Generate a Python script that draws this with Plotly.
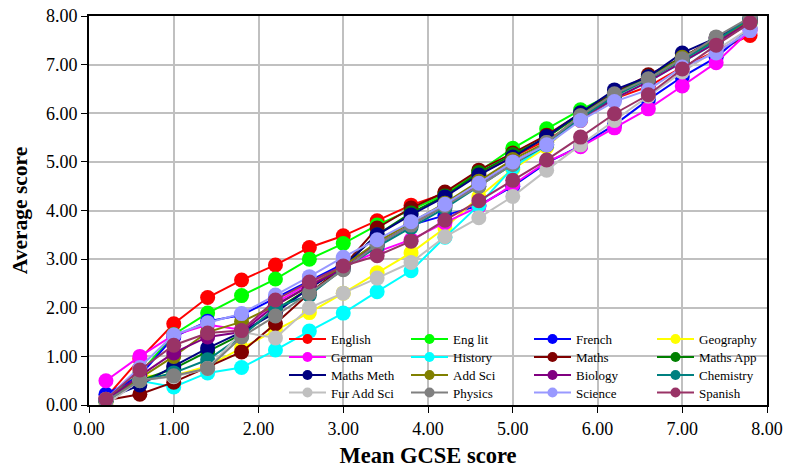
import plotly.graph_objects as go

x_vals = [0.2, 0.6, 1.0, 1.4, 1.8, 2.2, 2.6, 3.0, 3.4, 3.8, 4.2, 4.6, 5.0, 5.4, 5.8, 6.2, 6.6, 7.0, 7.4, 7.8]

english = [0.15, 0.95, 1.67, 2.21, 2.57, 2.88, 3.24, 3.48, 3.79, 4.11, 4.35, 4.75, 5.10, 5.45, 5.85, 6.30, 6.55, 6.95, 7.28, 7.60]
eng_lit = [0.10, 0.65, 1.45, 1.89, 2.25, 2.59, 3.00, 3.32, 3.70, 4.02, 4.33, 4.80, 5.28, 5.68, 6.07, 6.42, 6.72, 7.10, 7.45, 7.85]
french = [0.22, 0.60, 1.40, 1.72, 1.85, 2.20, 2.55, 2.90, 3.30, 3.70, 3.90, 4.10, 4.50, 4.98, 5.33, 5.76, 6.28, 6.75, 7.15, 7.75]
geography = [0.05, 0.60, 0.60, 0.80, 1.17, 1.54, 1.90, 2.30, 2.72, 3.13, 3.64, 4.28, 4.85, 5.30, 5.95, 6.35, 6.70, 7.05, 7.45, 7.85]
german = [0.50, 1.00, 1.44, 1.65, 1.55, 2.10, 2.50, 2.85, 3.15, 3.40, 3.75, 4.08, 4.53, 5.00, 5.31, 5.70, 6.09, 6.56, 7.04, 7.70]
history = [0.08, 0.50, 0.37, 0.66, 0.77, 1.13, 1.52, 1.89, 2.33, 2.76, 3.45, 4.11, 4.88, 5.35, 5.90, 6.30, 6.65, 7.05, 7.45, 7.85]
maths = [0.10, 0.22, 0.47, 0.78, 1.09, 1.67, 2.30, 2.85, 3.64, 4.05, 4.38, 4.83, 5.18, 5.55, 6.00, 6.42, 6.79, 7.15, 7.55, 7.95]
maths_app = [0.10, 0.50, 0.75, 1.10, 1.45, 1.95, 2.40, 2.85, 3.50, 3.95, 4.30, 4.78, 5.15, 5.50, 5.98, 6.40, 6.75, 7.15, 7.50, 7.90]
maths_meth = [0.12, 0.41, 0.80, 1.17, 1.50, 1.90, 2.40, 2.85, 3.50, 3.91, 4.28, 4.73, 5.10, 5.52, 6.01, 6.48, 6.75, 7.24, 7.55, 7.95]
add_sci = [0.10, 0.55, 1.00, 1.50, 1.71, 2.05, 2.45, 2.85, 3.35, 3.75, 4.15, 4.60, 5.05, 5.40, 5.95, 6.38, 6.70, 7.15, 7.50, 7.90]
biology = [0.10, 0.60, 1.07, 1.40, 1.50, 2.05, 2.45, 2.80, 3.30, 3.70, 4.10, 4.55, 5.00, 5.35, 5.90, 6.30, 6.65, 7.05, 7.45, 7.88]
chemistry = [0.08, 0.50, 0.66, 0.93, 1.41, 2.00, 2.26, 2.80, 3.25, 3.65, 4.05, 4.50, 4.95, 5.35, 5.90, 6.35, 6.70, 7.10, 7.50, 7.95]
fur_add_sci = [0.00, 0.51, 0.58, 0.75, 1.50, 1.38, 2.00, 2.30, 2.61, 2.93, 3.46, 3.85, 4.29, 4.83, 5.35, 5.85, 6.35, 6.85, 7.30, 7.75]
physics = [0.08, 0.50, 0.60, 0.75, 1.40, 1.83, 2.30, 2.78, 3.30, 3.70, 4.10, 4.50, 4.95, 5.40, 5.95, 6.40, 6.71, 7.12, 7.57, 7.97]
science = [0.12, 0.77, 1.44, 1.69, 1.88, 2.26, 2.64, 3.04, 3.40, 3.77, 4.13, 4.56, 5.00, 5.35, 5.85, 6.24, 6.48, 6.95, 7.24, 7.70]
spanish = [0.12, 0.72, 1.23, 1.48, 1.53, 2.16, 2.53, 2.86, 3.07, 3.37, 3.80, 4.20, 4.62, 5.04, 5.51, 5.99, 6.38, 6.91, 7.40, 7.86]

series_names = ["English", "Eng lit", "French", "Geography", "German", "History", "Maths", "Maths App",
                "Maths Meth", "Add Sci", "Biology", "Chemistry", "Fur Add Sci", "Physics", "Science", "Spanish"]
series_values = [english, eng_lit, french, geography, german, history, maths, maths_app,
                 maths_meth, add_sci, biology, chemistry, fur_add_sci, physics, science, spanish]
series_colors = ["#FF0000", "#00FF00", "#0000FF", "#FFFF00", "#FF00FF", "#00FFFF", "#800000", "#008000",
                 "#000080", "#808000", "#800080", "#008080", "#C0C0C0", "#808080", "#9999FF", "#993366"]

x_ticks = [0, 1, 2, 3, 4, 5, 6, 7, 8]
y_ticks = [0, 1, 2, 3, 4, 5, 6, 7, 8]

FONT = "Liberation Serif"
fig = go.Figure()

for name, vals, col in zip(series_names, series_values, series_colors):
    fig.add_trace(go.Scatter(x=x_vals, y=vals, mode="lines+markers", name=name,
                             line=dict(color=col, width=2),
                             marker=dict(color=col, size=15),
                             showlegend=False))

PL, PR, PT, PB = 89, 767, 16, 405
W = PR - PL
H = PB - PT

# one legend per entry: 4 columns x 4 rows, row-major order as in the reference
col_x = [284, 406, 529, 652]
row_y = [339, 357, 375, 392.5]
for i, (name, col) in enumerate(zip(series_names, series_colors)):
    lid = "legend" if i == 0 else f"legend{i + 1}"
    fig.add_trace(go.Scatter(x=[None], y=[None], mode="lines+markers", name=name,
                             line=dict(color=col, width=2),
                             marker=dict(color=col, size=10),
                             legend=lid, showlegend=True))
    cx = col_x[i % 4]
    ry = row_y[i // 4]
    fig.update_layout(**{lid: dict(
        bgcolor="rgba(0,0,0,0)", borderwidth=0, orientation="v",
        font=dict(family=FONT, size=13, color="black"),
        x=(cx - PL) / W, y=(PB - ry) / H,
        xanchor="left", yanchor="middle", itemwidth=37)})

axis_common = dict(range=[0, 8], tickformat=".2f",
                   showgrid=True, gridcolor="#C0C0C0", gridwidth=2,
                   showline=True, linecolor="black", linewidth=2, mirror=True,
                   ticks="outside", ticklen=6, tickcolor="black", tickwidth=1,
                   tickfont=dict(family=FONT, size=18),
                   zeroline=False, automargin=False)

fig.update_layout(
    width=788, height=468,
    margin=dict(l=PL, r=788 - PR, t=PT, b=468 - PB, autoexpand=False),
    paper_bgcolor="white", plot_bgcolor="white",
    font=dict(family=FONT, color="black"),
    xaxis=dict(axis_common, tickvals=x_ticks,
               title=dict(text="<b>Mean GCSE score</b>", font=dict(family=FONT, size=22.5), standoff=14)),
    yaxis=dict(axis_common, tickvals=y_ticks,
               title=dict(text="<b>Average score</b>", font=dict(family=FONT, size=21.5), standoff=12)),
)

fig.write_html("out.html")
